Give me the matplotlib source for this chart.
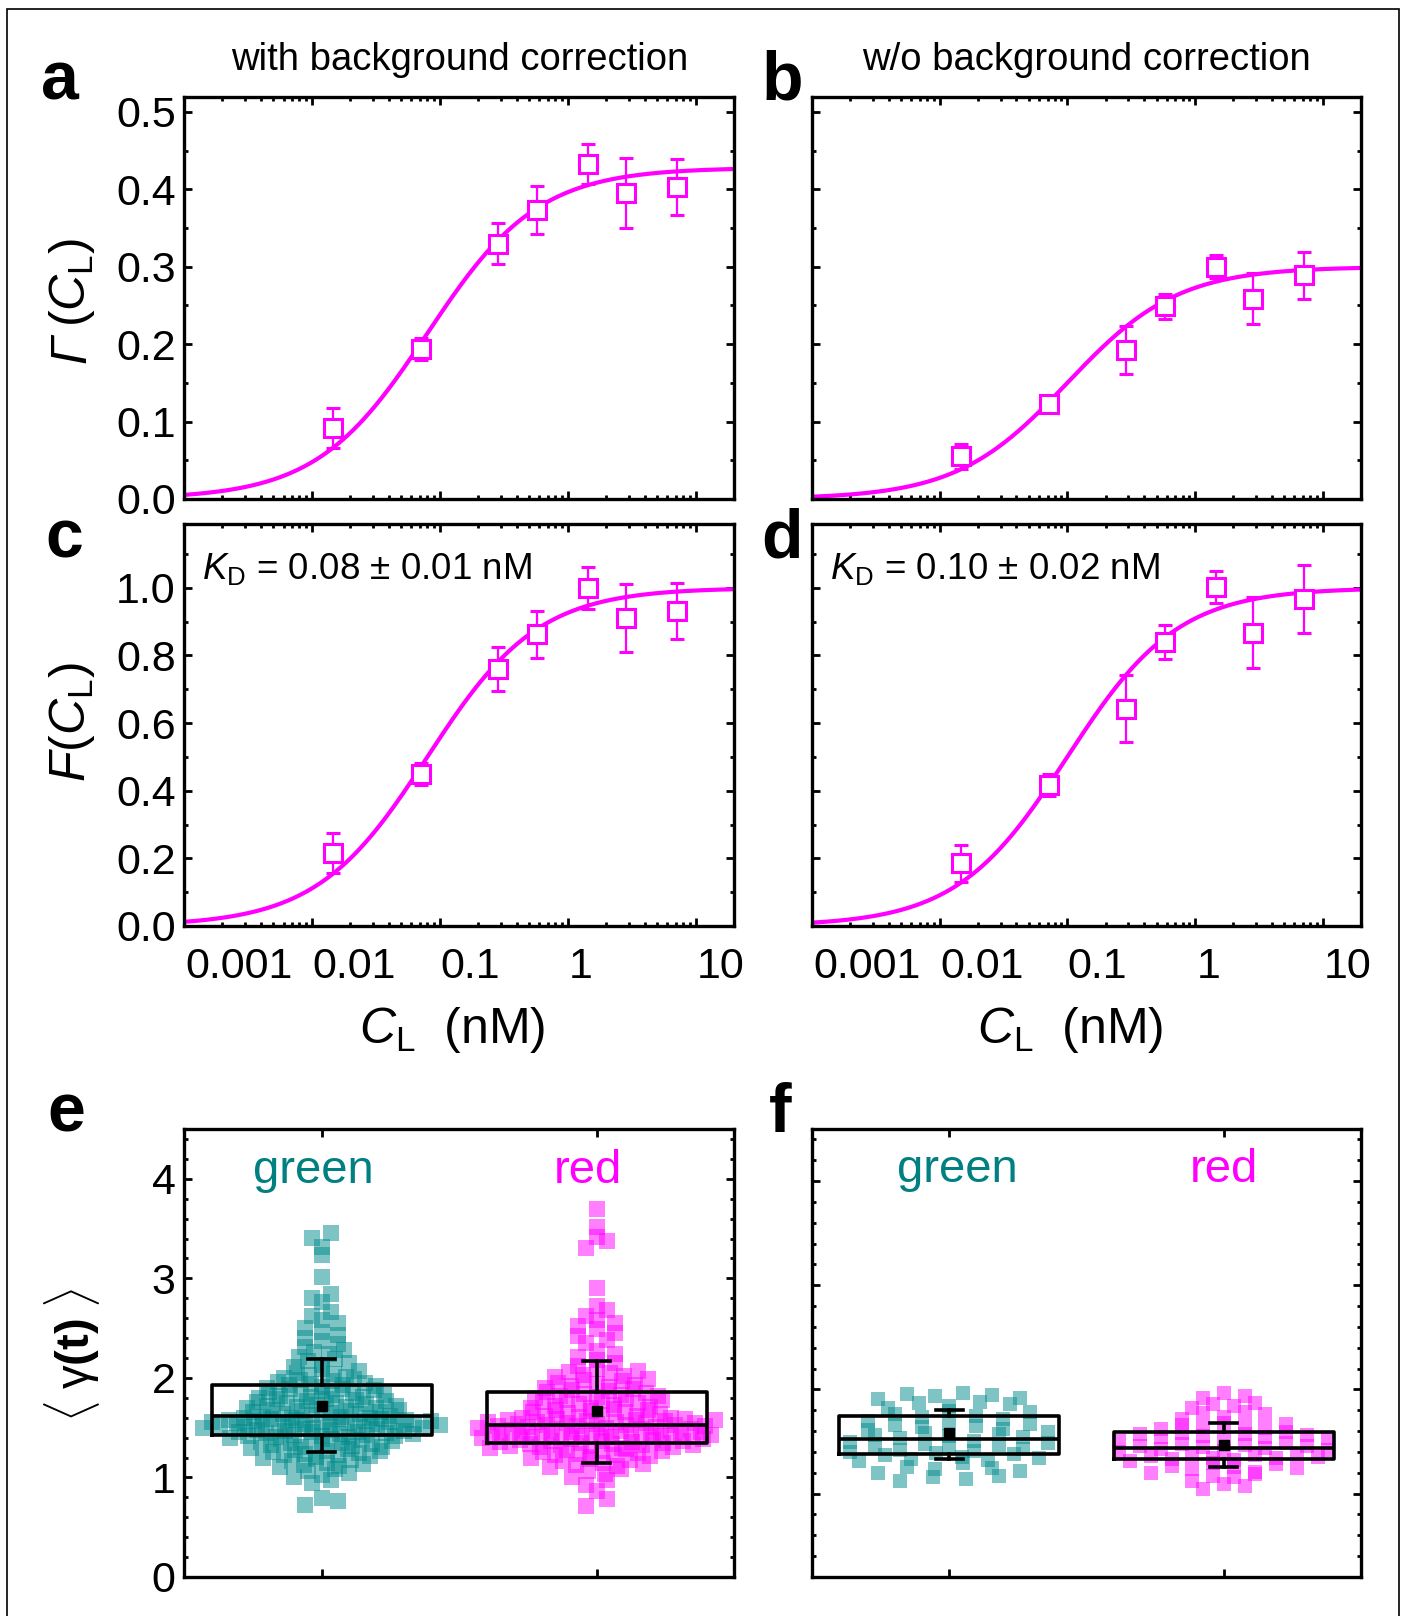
import numpy as np
import matplotlib
matplotlib.use("Agg")
import matplotlib.pyplot as plt
from matplotlib.patches import Rectangle
from matplotlib.ticker import FixedLocator, LogLocator, NullFormatter, MultipleLocator, FormatStrFormatter

plt.rcParams['font.family'] = ['Liberation Sans', 'DejaVu Sans']
plt.rcParams['mathtext.fontset'] = 'custom'
plt.rcParams['mathtext.rm'] = 'Liberation Sans'
plt.rcParams['mathtext.it'] = 'Liberation Sans:italic'
plt.rcParams['mathtext.bf'] = 'Liberation Sans:bold'

# ---------------- data ----------------
conc = [0.0147, 0.0716, 0.286, 0.578, 1.45, 2.87, 7.2]          # C_L (nM)
gamma_corr = [0.092, 0.194, 0.330, 0.374, 0.433, 0.395, 0.403]
gamma_corr_err = [0.026, 0.014, 0.027, 0.031, 0.026, 0.045, 0.036]
gamma_raw = [0.055, 0.123, 0.192, 0.249, 0.300, 0.259, 0.289]
gamma_raw_err = [0.016, 0.006, 0.031, 0.016, 0.015, 0.033, 0.030]
frac_corr = [0.216, 0.450, 0.759, 0.863, 0.999, 0.911, 0.931]
frac_corr_err = [0.060, 0.033, 0.065, 0.070, 0.063, 0.100, 0.082]
frac_raw = [0.185, 0.417, 0.643, 0.839, 1.002, 0.867, 0.967]
frac_raw_err = [0.055, 0.032, 0.100, 0.050, 0.048, 0.105, 0.100]

# fit parameters (Langmuir): amplitude, K_D
fit_amp = {'a': 0.428, 'b': 0.300, 'c': 1.0, 'd': 1.0}
fit_kd = {'a': 0.08, 'b': 0.10, 'c': 0.08, 'd': 0.10}

xtick_labels = ['0.001', '0.01', '0.1', '1', '10']
categories = ['green', 'red']

e_green = [3.46, 3.41, 3.31, 3.23, 3.01, 2.84, 2.80, 2.76,
           2.66, 2.62, 2.58, 2.55, 2.50, 2.46, 2.43, 2.40, 2.37,
           2.34, 2.31, 2.28, 2.26, 2.24, 2.21, 2.19, 2.17, 2.15, 2.13, 2.11, 2.09,
           2.07, 2.05, 2.03, 2.01, 1.99, 1.97, 2.04, 2.00, 1.98, 1.96,
           1.95, 1.93, 1.91, 1.89, 1.87, 1.85, 1.94, 1.92, 1.90, 1.88, 1.86, 1.84, 1.93, 1.89,
           1.83, 1.81, 1.79, 1.77, 1.75, 1.82, 1.80, 1.78, 1.76, 1.74, 1.83, 1.79, 1.75, 1.81, 1.77, 1.73,
           1.72, 1.70, 1.68, 1.66, 1.64, 1.71, 1.69, 1.67, 1.65, 1.63, 1.72, 1.68, 1.64, 1.70, 1.66, 1.62, 1.71, 1.67,
           1.61, 1.60, 1.59, 1.58, 1.57, 1.56, 1.55, 1.54, 1.53, 1.52, 1.61, 1.59, 1.57, 1.55, 1.53, 1.51,
           1.60, 1.58, 1.56, 1.54, 1.52, 1.50, 1.60, 1.57, 1.54, 1.51, 1.59, 1.55, 1.52, 1.58, 1.56, 1.53,
           1.50, 1.49, 1.48, 1.47, 1.46, 1.45, 1.44, 1.43, 1.42, 1.41, 1.49, 1.47, 1.45, 1.43, 1.41,
           1.48, 1.46, 1.44, 1.42, 1.40, 1.50, 1.46, 1.42,
           1.39, 1.37, 1.35, 1.33, 1.31, 1.38, 1.36, 1.34, 1.32, 1.30, 1.39, 1.35, 1.31, 1.37, 1.33,
           1.29, 1.27, 1.25, 1.23, 1.21, 1.28, 1.26, 1.24, 1.22, 1.20, 1.27, 1.23,
           1.19, 1.17, 1.15, 1.13, 1.11, 1.18, 1.14, 1.10,
           1.08, 1.06, 1.04, 1.02, 1.00, 0.97, 0.94, 0.79, 0.76, 0.72]

e_red = [3.70, 3.52, 3.42, 3.37, 3.30, 2.90, 2.72, 2.68, 2.62, 2.58, 2.55, 2.52, 2.49, 2.45, 2.42, 2.38, 2.35,
         2.27, 2.24, 2.21, 2.18, 2.15, 2.12,
         2.09, 2.07, 2.05, 2.03, 2.01, 1.99, 1.97, 2.06, 2.02, 1.98,
         1.95, 1.93, 1.91, 1.89, 1.87, 1.85, 1.94, 1.92, 1.90, 1.88, 1.86,
         1.84, 1.82, 1.80, 1.78, 1.76, 1.74, 1.83, 1.81, 1.79, 1.77, 1.75, 1.73, 1.82, 1.78,
         1.72, 1.70, 1.68, 1.66, 1.64, 1.62, 1.71, 1.69, 1.67, 1.65, 1.63, 1.61, 1.70, 1.66, 1.62, 1.68,
         1.60, 1.59, 1.58, 1.57, 1.56, 1.55, 1.54, 1.53, 1.52, 1.51, 1.60, 1.58, 1.56, 1.54, 1.52, 1.50,
         1.59, 1.57, 1.55, 1.53, 1.51, 1.58, 1.55, 1.52, 1.56, 1.53,
         1.50, 1.49, 1.48, 1.47, 1.46, 1.45, 1.44, 1.43, 1.42, 1.41, 1.49, 1.47, 1.45, 1.43, 1.41,
         1.48, 1.46, 1.44, 1.42, 1.40, 1.49, 1.46, 1.43, 1.47, 1.44,
         1.39, 1.38, 1.37, 1.36, 1.35, 1.34, 1.33, 1.32, 1.31, 1.30, 1.39, 1.37, 1.35, 1.33, 1.31,
         1.38, 1.36, 1.34, 1.32, 1.30, 1.37, 1.33,
         1.29, 1.27, 1.25, 1.23, 1.21, 1.28, 1.26, 1.24, 1.22, 1.20, 1.27, 1.23,
         1.19, 1.17, 1.15, 1.13, 1.11, 1.18, 1.14, 1.10,
         1.08, 1.06, 1.03, 1.00, 0.97, 0.92, 0.86, 0.78, 0.71]

f_green = [1.97, 1.95, 1.96, 1.92, 1.94, 1.91,
           1.88, 1.86, 1.84, 1.87, 1.82,
           1.79, 1.76, 1.74, 1.78, 1.72, 1.75, 1.70,
           1.68, 1.66, 1.64, 1.62, 1.67, 1.61, 1.65,
           1.59, 1.57, 1.55, 1.54, 1.53, 1.58, 1.56,
           1.51, 1.49, 1.47, 1.46, 1.50, 1.45, 1.48,
           1.43, 1.41, 1.39, 1.38, 1.42, 1.37, 1.40,
           1.35, 1.33, 1.31, 1.29, 1.34, 1.32,
           1.26, 1.24, 1.22, 1.25, 1.20,
           1.17, 1.14, 1.16, 1.12]

f_red = [1.97, 1.94, 1.92,
         1.87, 1.84, 1.82, 1.86,
         1.78, 1.76, 1.74, 1.72, 1.77,
         1.68, 1.66, 1.64, 1.62, 1.65, 1.67, 1.63,
         1.59, 1.57, 1.55, 1.54, 1.53, 1.58, 1.56, 1.52, 1.51, 1.54, 1.57,
         1.49, 1.47, 1.46, 1.44, 1.42, 1.48, 1.45, 1.43, 1.41, 1.46, 1.40,
         1.38, 1.37, 1.35, 1.34, 1.33, 1.36, 1.32, 1.34, 1.37, 1.31,
         1.29, 1.27, 1.25, 1.24, 1.28, 1.26,
         1.21, 1.19, 1.17, 1.16, 1.20,
         1.12, 1.09, 1.07, 1.04]

# box statistics [green, red]
e_box_med = [1.62, 1.53]
e_box_q1 = [1.43, 1.35]
e_box_q3 = [1.93, 1.86]
e_box_lo = [1.26, 1.15]
e_box_hi = [2.19, 2.17]
e_box_mean = [1.72, 1.67]
f_box_med = [1.527, 1.438]
f_box_q1 = [1.384, 1.333]
f_box_q3 = [1.741, 1.588]
f_box_lo = [1.333, 1.256]
f_box_hi = [1.805, 1.678]
f_box_mean = [1.582, 1.470]

# ---------------- style ----------------
MAG = '#FF00FF'
TEAL = '#008B8B'
TEAL_TXT = '#008080'
W, H = 1403, 1616
fig = plt.figure(figsize=(W / 100, H / 100), dpi=100)
TICK_FS = 31


def axes_px(l, r, t, b):
    return fig.add_axes([l / W, 1 - b / H, (r - l) / W, (b - t) / H])


def style(ax):
    for s in ax.spines.values():
        s.set_linewidth(2.4)
    ax.tick_params(which='both', direction='in', top=True, right=True,
                   width=2.0, labelsize=TICK_FS, pad=6)
    ax.tick_params(which='major', length=5.5)
    ax.tick_params(which='minor', length=2.8)


XMIN, XMAX = 0.001, 20.0


def binding_panel(ax, key, y, yerr, ymax, ymaj, ymin_step, ylabels, xlabels):
    style(ax)
    ax.set_xscale('log')
    ax.set_xlim(XMIN, XMAX)
    ax.set_ylim(0, ymax)
    ax.xaxis.set_major_locator(FixedLocator([1e-3, 1e-2, 1e-1, 1, 10]))
    ax.xaxis.set_minor_locator(LogLocator(base=10, subs=np.arange(2, 10), numticks=30))
    ax.xaxis.set_major_formatter(NullFormatter())
    ax.xaxis.set_minor_formatter(NullFormatter())
    ax.yaxis.set_major_locator(MultipleLocator(ymaj))
    ax.yaxis.set_minor_locator(MultipleLocator(ymin_step))
    if ylabels:
        ax.yaxis.set_major_formatter(FormatStrFormatter('%.1f'))
    else:
        ax.yaxis.set_major_formatter(NullFormatter())
    xs = np.logspace(np.log10(XMIN), np.log10(XMAX), 400)
    ax.plot(xs, fit_amp[key] * xs / (xs + fit_kd[key]), color=MAG, lw=3.0, zorder=2)
    ax.errorbar(conc, y, yerr=yerr, fmt='s', ms=12.5, mfc='white', mec=MAG, mew=2.2,
                ecolor=MAG, elinewidth=1.6, capsize=5, capthick=1.6, zorder=3)
    if xlabels:
        for frac, lab in zip([0.10, 0.31, 0.52, 0.722, 0.975], xtick_labels):
            ax.text(frac, -0.102, lab, transform=ax.transAxes, ha='center', va='center',
                    fontsize=TICK_FS)


ax_a = axes_px(184, 734, 96.5, 499)
ax_b = axes_px(812, 1361, 96.5, 499)
ax_c = axes_px(184, 734, 523.6, 926)
ax_d = axes_px(812, 1361, 523.6, 926)
ax_e = axes_px(184, 734, 1129, 1577)
ax_f = axes_px(812, 1361, 1129, 1577)

binding_panel(ax_a, 'a', gamma_corr, gamma_corr_err, 0.52, 0.1, 0.05, True, False)
binding_panel(ax_b, 'b', gamma_raw, gamma_raw_err, 0.52, 0.1, 0.05, False, False)
binding_panel(ax_c, 'c', frac_corr, frac_corr_err, 1.19, 0.2, 0.1, True, True)
binding_panel(ax_d, 'd', frac_raw, frac_raw_err, 1.19, 0.2, 0.1, False, True)

kd_txt_c = r'$\mathit{K}_{\mathrm{D}}$ = 0.08 $\pm$ 0.01 nM'
kd_txt_d = r'$\mathit{K}_{\mathrm{D}}$ = 0.10 $\pm$ 0.02 nM'
ax_c.text(0.032, 0.888, kd_txt_c, transform=ax_c.transAxes, ha='left', va='center', fontsize=26.5)
ax_d.text(0.032, 0.888, kd_txt_d, transform=ax_d.transAxes, ha='left', va='center', fontsize=26.5)


def swarm_offsets(vals, binw, maxw, p):
    """Deterministic binned swarm: row half-width grows with the row's count."""
    vals = np.asarray(vals, dtype=float)
    bins = np.floor(vals / binw + 1e-9).astype(int)
    ub, counts = np.unique(bins, return_counts=True)
    nmax = counts.max()
    x = np.zeros_like(vals)
    for b, n in zip(ub, counts):
        if n == 1:
            continue
        idx = np.where(bins == b)[0]
        hw = maxw * ((n - 1) / (nmax - 1)) ** p
        slots = np.linspace(-hw, hw, n)
        perm = np.argsort((np.arange(n) * 0.618034) % 1.0)
        idx_sorted = idx[np.argsort(vals[idx], kind='stable')]
        x[idx_sorted] = slots[perm]
    return x


def dist_panel(ax, groups, layout, med, q1, q3, lo, hi, mean, ylim, label_x, label_y, msize):
    style(ax)
    ax.set_xlim(0.5, 2.5)
    ax.set_ylim(*ylim)
    ax.xaxis.set_major_locator(FixedLocator([1, 2]))
    ax.xaxis.set_major_formatter(NullFormatter())
    ax.yaxis.set_major_locator(MultipleLocator(1))
    ax.yaxis.set_minor_locator(MultipleLocator(0.2))
    colors = [TEAL, MAG]
    for i, vals in enumerate(groups):
        off = swarm_offsets(vals, *layout[i])
        ax.scatter(np.full(len(vals), i + 1.0) + off, vals, marker='s', s=msize,
                   color=colors[i], alpha=0.5, linewidths=0, zorder=2)
    stats = []
    for i in range(2):
        stats.append(dict(med=med[i], q1=q1[i], q3=q3[i], whislo=lo[i], whishi=hi[i],
                          mean=mean[i], fliers=[]))
    ax.bxp(stats, positions=[1, 2], widths=0.8, capwidths=0.1, showmeans=True,
           showfliers=False, manage_ticks=False,
           boxprops=dict(color='black', lw=2.6),
           whiskerprops=dict(color='black', lw=2.6),
           capprops=dict(color='black', lw=2.6),
           medianprops=dict(color='black', lw=2.6),
           meanprops=dict(marker='s', mfc='black', mec='black', ms=6.5),
           zorder=3)
    for i, cat in enumerate(categories):
        ax.text(label_x[i], label_y, cat, color=[TEAL_TXT, MAG][i], fontsize=34,
                ha='center', va='baseline')


dist_panel(ax_e, [e_green, e_red],
           [(0.1, 0.43, 0.75), (0.1, 0.43, 0.75)],
           e_box_med, e_box_q1, e_box_q3, e_box_lo, e_box_hi, e_box_mean,
           (0, 4.5), [0.97, 1.97], 3.96, 130)
ax_e.yaxis.set_major_formatter(FormatStrFormatter('%d'))
dist_panel(ax_f, [f_green, f_red],
           [(0.1, 0.36, 0.7), (0.1, 0.38, 1.0)],
           f_box_med, f_box_q1, f_box_q3, f_box_lo, f_box_hi, f_box_mean,
           (0.2, 4.5), [1.03, 2.0], 3.99, 115)
ax_f.yaxis.set_major_formatter(NullFormatter())

# ---------------- figure texts ----------------
def ftext(x, y, s, **kw):
    fig.text(x / W, 1 - y / H, s, **kw)

ftext(460, 70, 'with background correction', fontsize=27.5, ha='center', va='baseline')
ftext(1086, 70, 'w/o background correction', fontsize=27.5, ha='center', va='baseline')

for lab, x, y in [('a', 60, 100), ('b', 782, 100), ('c', 64, 558),
                  ('d', 782, 558), ('e', 66, 1132), ('f', 780, 1132)]:
    ftext(x, y, lab, fontsize=49, fontweight='bold', ha='center', va='baseline')

# y label of panel a: italic Gamma followed by (C_L)
ftext(72, 349, 'Γ', fontsize=36, fontstyle='italic', rotation=90, ha='center', va='center')
ftext(72, 282, r'$(\mathit{C}_{\mathrm{L}})$', fontsize=36, rotation=90,
      ha='center', va='center')
ftext(72, 722, r'$\mathit{F}(\mathit{C}_{\mathrm{L}})$', fontsize=36, rotation=90,
      ha='center', va='center')
ftext(72, 1355, r'$\langle\;\mathrm{γ}\mathbf{(t)}\;\rangle$', fontsize=34, rotation=90,
      ha='center', va='center')
ftext(452, 1030, r'$\mathit{C}_{\mathrm{L}}$  (nM)', fontsize=36, ha='center', va='center')
ftext(1070, 1030, r'$\mathit{C}_{\mathrm{L}}$  (nM)', fontsize=36, ha='center', va='center')

fig.add_artist(Rectangle((7 / W, -0.01), (1399 - 7) / W, 1 - 9 / H + 0.01,
                         transform=fig.transFigure, fill=False, lw=1.2, ec='black'))

fig.savefig('out.png', dpi=100)
